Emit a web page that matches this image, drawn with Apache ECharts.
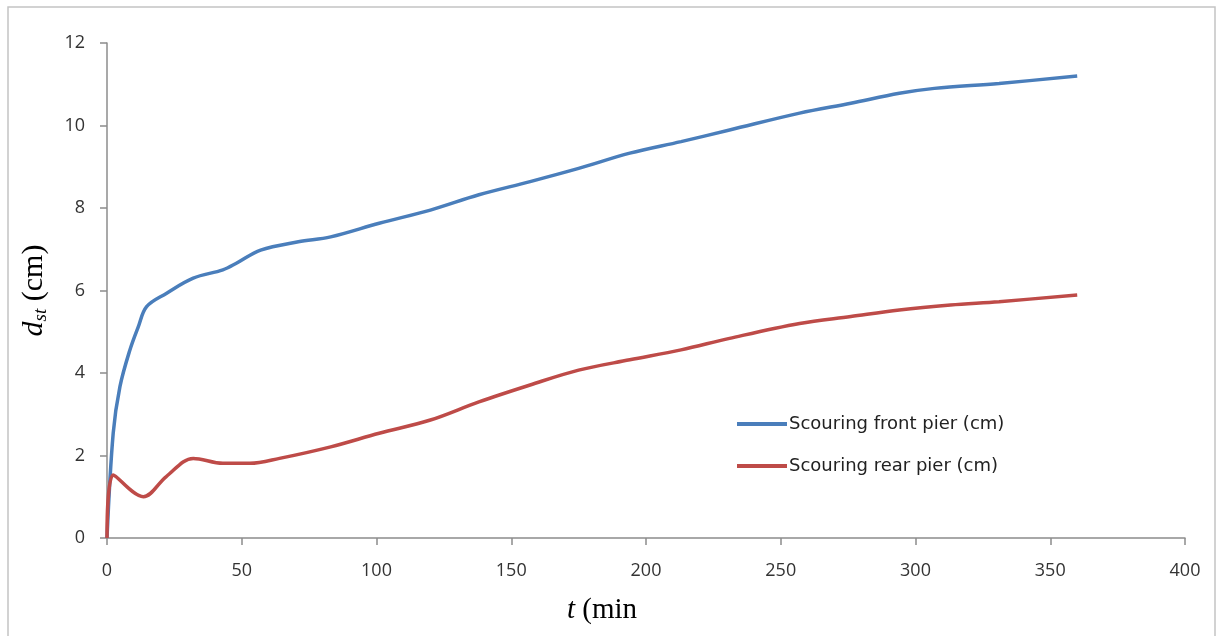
<!DOCTYPE html>
<html>
<head>
<meta charset="utf-8">
<script src="https://cdn.jsdelivr.net/npm/echarts@6/dist/echarts.min.js"></script>
<style>
  html, body { margin: 0; padding: 0; background: #fff; }
  #chart { width: 1219px; height: 636px; }
</style>
</head>
<body>
<div id="chart"></div>
<script>
let frontT = [0, 2.3, 4.8, 8.5, 11.6, 14.7, 22, 32, 43, 48, 57, 71, 83, 101, 120, 138, 157, 175, 194, 213, 231, 257, 276, 294, 307, 331, 360];
let frontVal = [0, 2.54, 3.67, 4.56, 5.12, 5.61, 5.93, 6.30, 6.50, 6.66, 6.98, 7.18, 7.30, 7.63, 7.95, 8.32, 8.64, 8.96, 9.33, 9.61, 9.89, 10.30, 10.54, 10.78, 10.90, 11.02, 11.2];
let rearT = [0, 2.3, 13.5, 22, 32, 43, 53, 64, 83, 101, 120, 138, 157, 175, 194, 213, 231, 257, 276, 294, 313, 331, 360];
let rearVal = [0, 1.53, 1.0, 1.49, 1.93, 1.81, 1.81, 1.93, 2.21, 2.54, 2.86, 3.30, 3.71, 4.07, 4.32, 4.56, 4.84, 5.20, 5.37, 5.53, 5.65, 5.73, 5.89];
let seriesNames = ['Scouring front pier (cm)', 'Scouring rear pier (cm)'];

function zip(a, b){
  return a.map(function(x, i){ return [x, b[i]]; });
}

let chart = echarts.init(document.getElementById('chart'));

let labelStyle = {
  color: '#333',
  fontFamily: 'Open Sans',
  fontSize: 18
};

chart.setOption({
  animation: false,
  backgroundColor: '#fff',
  graphic: [{
    type: 'rect',
    shape: { x: 8, y: 7, width: 1207, height: 650 },
    style: { fill: 'none', stroke: '#c4c4c4', lineWidth: 1.5 },
    silent: true
  }],
  grid: {
    left: 107,
    right: 34,
    top: 43,
    bottom: 98
  },
  legend: {
    orient: 'vertical',
    left: 732,
    top: 409,
    icon: 'rect',
    itemWidth: 50,
    itemHeight: 4,
    itemGap: 22,
    data: seriesNames,
    textStyle: {
      color: '#222',
      fontFamily: 'DejaVu Sans',
      fontSize: 18,
      lineHeight: 20,
      padding: [0, 0, 0, -3]
    }
  },
  xAxis: {
    type: 'value',
    min: 0,
    max: 400,
    interval: 50,
    name: '{i|t}{n| (min}',
    nameLocation: 'middle',
    nameGap: 58,
    nameTextStyle: {
      padding: [0, 88, 0, 0],
      rich: {
        i: { fontFamily: 'Liberation Serif', fontStyle: 'italic', fontSize: 29, color: '#000' },
        n: { fontFamily: 'Liberation Serif', fontSize: 29, color: '#000' }
      }
    },
    axisLine: { lineStyle: { color: '#8c8c8c', width: 1.5 } },
    axisTick: { inside: false, length: 7, lineStyle: { color: '#8c8c8c', width: 1.5 } },
    axisLabel: Object.assign({ margin: 24 }, labelStyle),
    splitLine: { show: false }
  },
  yAxis: {
    type: 'value',
    min: 0,
    max: 12,
    interval: 2,
    name: '{i|d}{s|st}{n| (cm)}',
    nameLocation: 'middle',
    nameGap: 57,
    nameTextStyle: {
      rich: {
        i: { fontFamily: 'Liberation Serif', fontStyle: 'italic', fontSize: 30, color: '#000' },
        s: { fontFamily: 'Liberation Serif', fontStyle: 'italic', fontSize: 19, color: '#000', verticalAlign: 'bottom', padding: [12, 0, 0, 0] },
        n: { fontFamily: 'Liberation Serif', fontSize: 30, color: '#000' }
      }
    },
    axisLine: { show: true, lineStyle: { color: '#8c8c8c', width: 1.5 } },
    axisTick: { show: true, inside: false, length: 7, lineStyle: { color: '#8c8c8c', width: 1.5 } },
    axisLabel: Object.assign({ margin: 22 }, labelStyle),
    splitLine: { show: false }
  },
  series: [
    {
      name: seriesNames[0],
      type: 'line',
      smooth: 0.35,
      symbol: 'none',
      data: zip(frontT, frontVal),
      lineStyle: { color: '#4a7ebb', width: 3.5 },
      itemStyle: { color: '#4a7ebb' }
    },
    {
      name: seriesNames[1],
      type: 'line',
      smooth: 0.35,
      symbol: 'none',
      data: zip(rearT, rearVal),
      lineStyle: { color: '#be4b48', width: 3.5 },
      itemStyle: { color: '#be4b48' }
    }
  ]
});
</script>
</body>
</html>
